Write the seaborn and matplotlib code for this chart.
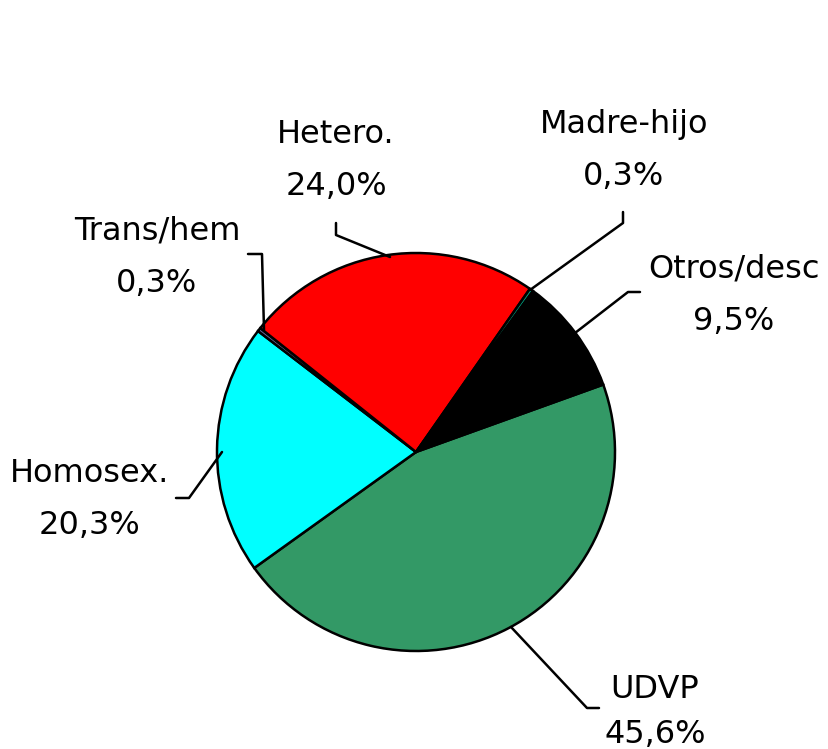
import matplotlib
matplotlib.use("Agg")
import matplotlib.pyplot as plt
import seaborn as sns

# Data (clockwise from the right side)
labels = ["UDVP", "Homosex.", "Trans/hem", "Hetero.", "Madre-hijo", "Otros/desc"]
values = [45.6, 20.3, 0.3, 24.0, 0.3, 9.5]
colors = ["#339966", "#00FFFF", "#666699", "#FF0000", "#00A080", "#000000"]

sns.set_style("white")
plt.rcParams['font.family'] = ['DejaVu Sans']

W, H = 829, 749
fig = plt.figure(figsize=(W / 100, H / 100), dpi=100)
ax = fig.add_axes([0, 0, 1, 1])

cx, cy, r = 416, H - 452, 199
ax.pie(values, colors=colors, startangle=19.8, counterclock=False,
       center=(cx, cy), radius=r,
       wedgeprops=dict(edgecolor="black", linewidth=1.8))
ax.set_xlim(0, W)
ax.set_ylim(0, H)
ax.set_aspect("equal")
ax.axis("off")

def py(y):
    return H - y

# label positions (x center, baseline of first line) and leader lines in pixels
label_pos = {
    "UDVP": (655, 698),
    "Homosex.": (90, 482),
    "Trans/hem": (157, 240),
    "Hetero.": (336, 143),
    "Madre-hijo": (624, 133),
    "Otros/desc": (734, 278),
}
leaders = {
    "UDVP": [(511, 627), (587, 708), (599, 708)],
    "Homosex.": [(176, 498), (189, 498), (222, 452)],
    "Trans/hem": [(248, 254), (262, 254), (264, 330)],
    "Hetero.": [(336, 223), (336, 235), (390, 257)],
    "Madre-hijo": [(623, 212), (623, 223), (530, 290)],
    "Otros/desc": [(640, 292), (628, 292), (575, 333)],
}

for lab, val in zip(labels, values):
    x, y = label_pos[lab]
    ax.text(x, py(y), lab, ha="center", va="baseline", fontsize=23, color="black")
    pct = f"{val:.1f}%".replace(".", ",")
    gap = 45 if lab == "UDVP" else 52
    ax.text(x, py(y + gap), pct, ha="center", va="baseline", fontsize=23, color="black")
    pts = leaders[lab]
    ax.plot([p[0] for p in pts], [py(p[1]) for p in pts], color="black", lw=1.8)

fig.savefig("out.png", dpi=100)
